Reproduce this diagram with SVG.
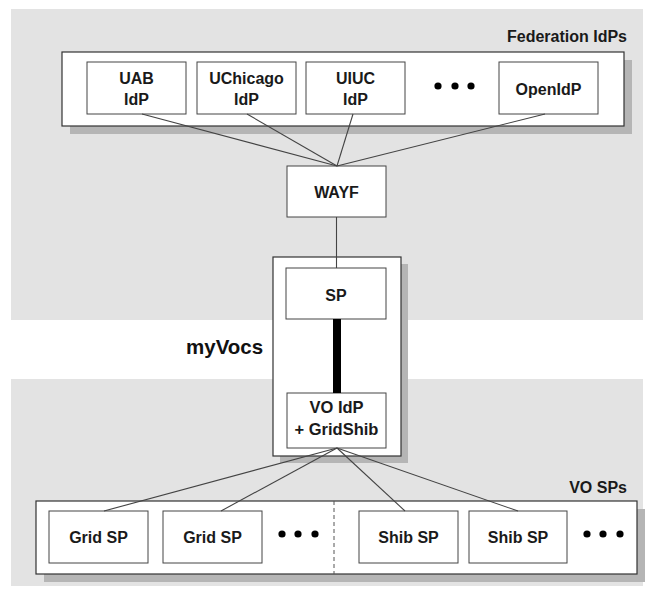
<svg xmlns="http://www.w3.org/2000/svg" width="647" height="589" viewBox="0 0 647 589">
<style>
.bg{fill:#e3e3e3}
.shadow{fill:#b5b5b5}
.outer{fill:#ffffff;stroke:#333;stroke-width:1.2}
.box{fill:#ffffff;stroke:#444;stroke-width:1}
.t{font-family:"Liberation Sans",Arial,sans-serif;font-weight:bold;font-size:16px;fill:#1a1a1a;text-anchor:middle}
.lbl{font-family:"Liberation Sans",Arial,sans-serif;font-weight:bold;font-size:16px;fill:#1a1a1a;text-anchor:end}
.big{font-family:"Liberation Sans",Arial,sans-serif;font-weight:bold;font-size:20.5px;fill:#111}
.ln{stroke:#444;stroke-width:1.1;fill:none}
.dot{fill:#000}
</style>
<rect width="647" height="589" fill="#ffffff"/>
<rect class="bg" x="11" y="9" width="632" height="311"/>
<rect class="bg" x="11" y="379" width="632" height="207"/>

<g id="federation-idps">
  <rect class="shadow" x="70" y="60" width="562" height="74"/>
  <rect class="outer" x="62" y="52" width="562" height="74"/>
  <text class="lbl" x="627" y="42">Federation IdPs</text>
  <circle class="dot" cx="438" cy="86" r="3.6"/>
  <circle class="dot" cx="455" cy="86" r="3.6"/>
  <circle class="dot" cx="471" cy="86" r="3.6"/>
</g>
<g id="uab-idp">
  <rect class="box" x="87" y="62" width="99" height="52"/>
  <text class="t" x="136.5" y="84">UAB</text>
  <text class="t" x="136.5" y="105">IdP</text>
</g>
<g id="uchicago-idp">
  <rect class="box" x="197" y="62" width="99" height="52"/>
  <text class="t" x="246.5" y="84">UChicago</text>
  <text class="t" x="246.5" y="105">IdP</text>
</g>
<g id="uiuc-idp">
  <rect class="box" x="306" y="62" width="99" height="52"/>
  <text class="t" x="355.5" y="84">UIUC</text>
  <text class="t" x="355.5" y="105">IdP</text>
</g>
<g id="openidp">
  <rect class="box" x="499" y="62" width="99" height="52"/>
  <text class="t" x="548.5" y="95">OpenIdP</text>
</g>
<g id="wayf">
  <rect class="box" x="287" y="166" width="99" height="51"/>
  <text class="t" x="336.5" y="198">WAYF</text>
</g>

<g id="myvocs">
  <rect class="shadow" x="280" y="264" width="128" height="199"/>
  <rect class="outer" x="273" y="257" width="128" height="199"/>
  <text class="big" x="186" y="354">myVocs</text>
</g>
<g id="sp">
  <rect class="box" x="286" y="268" width="100" height="51"/>
  <text class="t" x="336" y="301">SP</text>
</g>
<g id="vo-idp">
  <rect class="box" x="287" y="393" width="99" height="55"/>
  <text class="t" x="336.5" y="413" style="font-size:16.5px">VO IdP</text>
  <text class="t" x="336.5" y="435" style="font-size:16.5px">+ GridShib</text>
</g>

<g id="vo-sps">
  <rect class="shadow" x="44" y="509" width="601" height="73"/>
  <rect class="outer" x="36" y="501" width="601" height="73"/>
  <line x1="334" y1="501" x2="334" y2="574" stroke="#555" stroke-width="1" stroke-dasharray="4,3"/>
  <text class="lbl" x="627" y="493">VO SPs</text>
  <circle class="dot" cx="282" cy="534" r="3.6"/>
  <circle class="dot" cx="298" cy="534" r="3.6"/>
  <circle class="dot" cx="315" cy="534" r="3.6"/>
  <circle class="dot" cx="587" cy="534" r="3.6"/>
  <circle class="dot" cx="603" cy="534" r="3.6"/>
  <circle class="dot" cx="620" cy="534" r="3.6"/>
</g>
<g id="grid-sp-1">
  <rect class="box" x="49" y="511" width="99" height="52"/>
  <text class="t" x="98.5" y="543">Grid SP</text>
</g>
<g id="grid-sp-2">
  <rect class="box" x="163" y="511" width="99" height="52"/>
  <text class="t" x="212.5" y="543">Grid SP</text>
</g>
<g id="shib-sp-1">
  <rect class="box" x="359" y="511" width="99" height="52"/>
  <text class="t" x="408.5" y="543">Shib SP</text>
</g>
<g id="shib-sp-2">
  <rect class="box" x="469" y="511" width="98" height="52"/>
  <text class="t" x="518" y="543">Shib SP</text>
</g>

<g id="connectors">
  <line class="ln" x1="142" y1="114" x2="337" y2="166"/>
  <line class="ln" x1="247" y1="114" x2="337" y2="166"/>
  <line class="ln" x1="353" y1="114" x2="337" y2="166"/>
  <line class="ln" x1="545" y1="114" x2="337" y2="166"/>
  <line class="ln" x1="336.5" y1="217" x2="336.5" y2="268"/>
  <line x1="337" y1="319" x2="337" y2="393" stroke="#000" stroke-width="8"/>
  <line class="ln" x1="337" y1="448" x2="104" y2="511"/>
  <line class="ln" x1="337" y1="448" x2="221" y2="511"/>
  <line class="ln" x1="337" y1="448" x2="405" y2="511"/>
  <line class="ln" x1="337" y1="448" x2="518" y2="511"/>
</g>
</svg>
